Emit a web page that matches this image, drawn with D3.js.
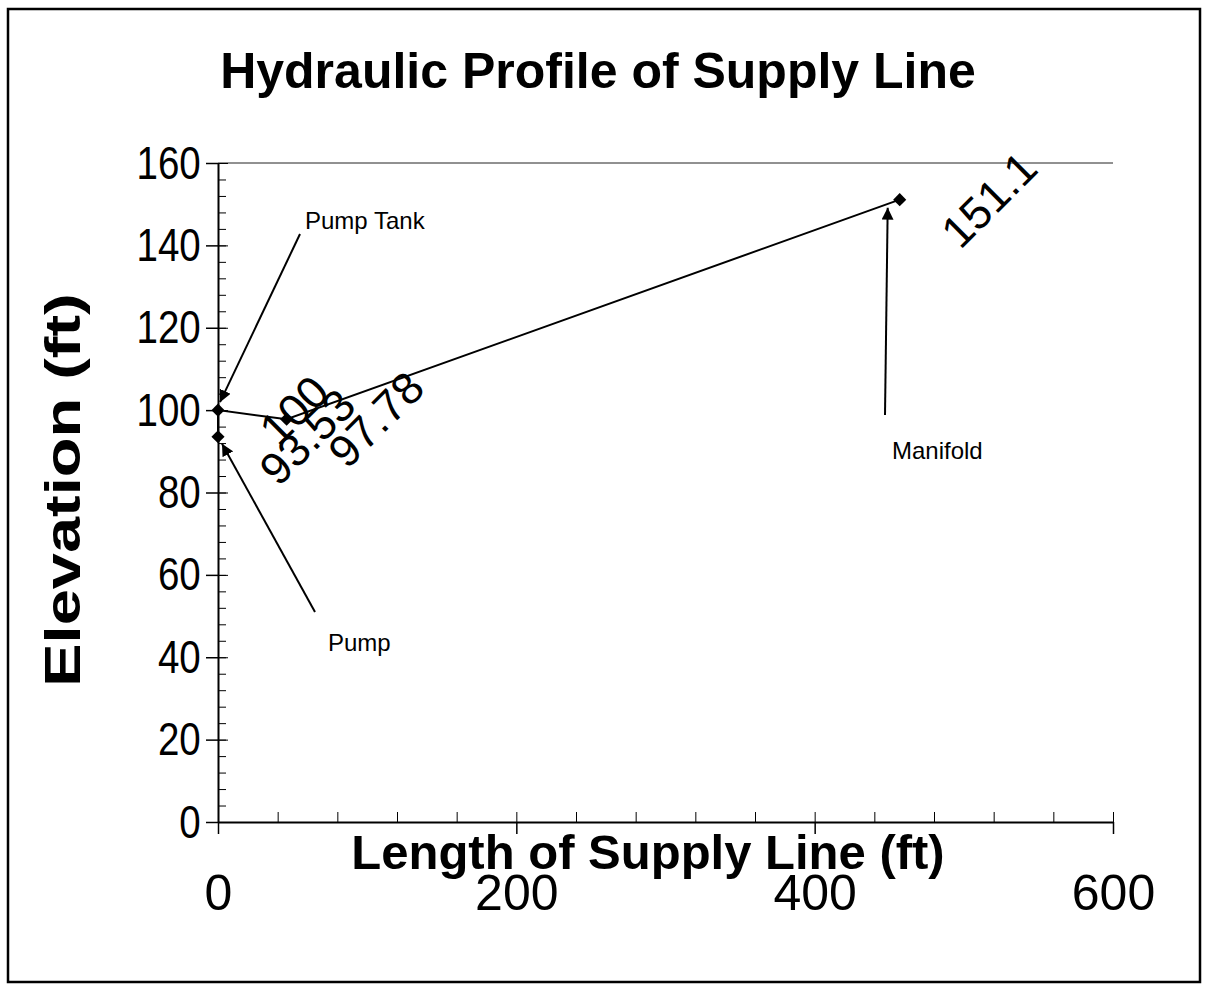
<!DOCTYPE html>
<html>
<head>
<meta charset="utf-8">
<script src="https://cdn.jsdelivr.net/npm/d3@7"></script>
<style>
  body { margin: 0; background: #fff; }
  text { font-family: "Liberation Sans", Arial, sans-serif; fill: #000; }
</style>
</head>
<body>
<div id="chart"></div>
<script>
// Data
var lengths = [0, 0, 46, 457];                 // length of supply line (ft)
var elevations = [93.53, 100, 97.78, 151.1];   // elevation (ft)
var pointLabels = ['93.53', '100', '97.78', '151.1'];
var xTicks = [0, 200, 400, 600];
var yTicks = [0, 20, 40, 60, 80, 100, 120, 140, 160];
var notes = ['Pump', 'Pump Tank', 'Manifold'];
var notePoint = [0, 1, 3];                     // which point each note arrow aims at

var width = 1208, height = 992;

var svg = d3.select('#chart')
            .append('svg')
            .attr('width', width)
            .attr('height', height);

// outer chart border
svg.append('rect')
   .attr('x', 8).attr('y', 9)
   .attr('width', 1192).attr('height', 973)
   .attr('fill', 'none')
   .attr('stroke', '#000')
   .attr('stroke-width', 2.5);

// scales
var x = d3.scaleLinear().domain([0, 600]).range([218, 1113]);
var y = d3.scaleLinear().domain([0, 160]).range([822, 163]);

// plot area top border
svg.append('line')
   .attr('x1', x(0)).attr('x2', x(600))
   .attr('y1', y(160)).attr('y2', y(160))
   .attr('stroke', '#222').attr('stroke-width', 1);

// title
svg.append('text')
   .attr('x', 598).attr('y', 88)
   .attr('text-anchor', 'middle')
   .attr('font-size', 50)
   .attr('font-weight', 'bold')
   .text('Hydraulic Profile of Supply Line');

// Y axis: minor ticks inside, major ticks crossing
var yMinor = d3.range(0, 161, 4);
svg.append('g')
   .attr('transform', 'translate(' + x(0) + ',0)')
   .call(d3.axisRight(y).tickValues(yMinor).tickSize(8).tickFormat(''))
   .call(function(g) { g.select('.domain').remove(); });

svg.append('g')
   .attr('transform', 'translate(' + x(0) + ',0)')
   .call(d3.axisRight(y).tickValues(yTicks).tickSize(10).tickFormat(''))
   .call(function(g) { g.select('.domain').remove(); });

var yAxis = svg.append('g')
   .attr('transform', 'translate(' + x(0) + ',0)')
   .call(d3.axisLeft(y).tickValues(yTicks).tickSizeInner(12).tickSizeOuter(0).tickPadding(9));
yAxis.select('.domain').attr('stroke', '#000').attr('stroke-width', 2);
yAxis.selectAll('line').attr('stroke-width', 1.5);
yAxis.selectAll('text')
     .attr('font-size', 47)
     .attr('font-family', '"Liberation Sans", Arial, sans-serif')
     .attr('transform', 'scale(0.82,1)');

// X axis: minor ticks every 40 inside, major crossing
var xMinor = d3.range(0, 601, 40);
svg.append('g')
   .attr('transform', 'translate(0,' + y(0) + ')')
   .call(d3.axisTop(x).tickValues(xMinor).tickSize(10).tickFormat(''))
   .call(function(g) { g.select('.domain').remove(); });

var xAxis = svg.append('g')
   .attr('transform', 'translate(0,' + y(0) + ')')
   .call(d3.axisBottom(x).tickValues(xTicks).tickSizeInner(12).tickSizeOuter(0).tickPadding(40));
xAxis.select('.domain').attr('stroke', '#000').attr('stroke-width', 2);
xAxis.selectAll('line').attr('stroke-width', 1.5);
xAxis.selectAll('text')
     .attr('font-size', 50)
     .attr('font-family', '"Liberation Sans", Arial, sans-serif');

// axis titles
svg.append('text')
   .attr('x', 648).attr('y', 869)
   .attr('text-anchor', 'middle')
   .attr('font-size', 49)
   .attr('font-weight', 'bold')
   .text('Length of Supply Line (ft)');

svg.append('text')
   .attr('transform', 'translate(80,490) rotate(-90) scale(1.3,1)')
   .attr('text-anchor', 'middle')
   .attr('font-size', 50)
   .attr('font-weight', 'bold')
   .text('Elevation (ft)');

// series line and markers
var pts = lengths.map(function(d, i) { return [d, elevations[i], pointLabels[i]]; });

svg.append('path')
   .datum(pts)
   .attr('fill', 'none')
   .attr('stroke', '#000')
   .attr('stroke-width', 2)
   .attr('d', d3.line()
     .x(function(d) { return x(d[0]); })
     .y(function(d) { return y(d[1]); }));

svg.selectAll('.marker')
   .data(pts)
   .enter()
   .append('path')
   .attr('class', 'marker')
   .attr('d', d3.symbol().type(d3.symbolDiamond2).size(110))
   .attr('transform', function(d) { return 'translate(' + x(d[0]) + ',' + y(d[1]) + ')'; })
   .attr('fill', '#000');

// data labels, rotated 45 degrees, placed to the right of each point
var labelSize = 45;
svg.selectAll('.point-label')
   .data(pts)
   .enter()
   .append('text')
   .attr('class', 'point-label')
   .attr('font-size', labelSize)
   .attr('text-anchor', 'middle')
   .attr('dy', '0.35em')
   .text(function(d) { return d[2]; })
   .attr('transform', function(d) {
     var w = this.getComputedTextLength();
     var half = (w + labelSize * 0.72) * 0.707 / 2;
     var cx = x(d[0]) + 38 + half, cy = y(d[1]);
     return 'translate(' + cx + ',' + cy + ') rotate(-45)';
   });

// annotation arrows
svg.append('defs').append('marker')
   .attr('id', 'arrow')
   .attr('viewBox', '0 0 10 10')
   .attr('refX', 10).attr('refY', 5)
   .attr('markerWidth', 6).attr('markerHeight', 6)
   .attr('orient', 'auto')
   .append('path')
   .attr('d', 'M0,0L10,5L0,10z')
   .attr('fill', '#000');

var noteText = [[328, 651], [305, 229], [892, 459]];
var noteFrom = [[315, 612], [300, 234], [885, 415]];
var noteOffset = [[4, 7], [2, -8], [-12, 8]];

notes.forEach(function(n, i) {
  var p = pts[notePoint[i]];
  svg.append('line')
     .attr('x1', noteFrom[i][0]).attr('y1', noteFrom[i][1])
     .attr('x2', x(p[0]) + noteOffset[i][0])
     .attr('y2', y(p[1]) + noteOffset[i][1])
     .attr('stroke', '#000')
     .attr('stroke-width', 2)
     .attr('marker-end', 'url(#arrow)');
  svg.append('text')
     .attr('x', noteText[i][0]).attr('y', noteText[i][1])
     .attr('font-size', 24)
     .text(n);
});
</script>
</body>
</html>
